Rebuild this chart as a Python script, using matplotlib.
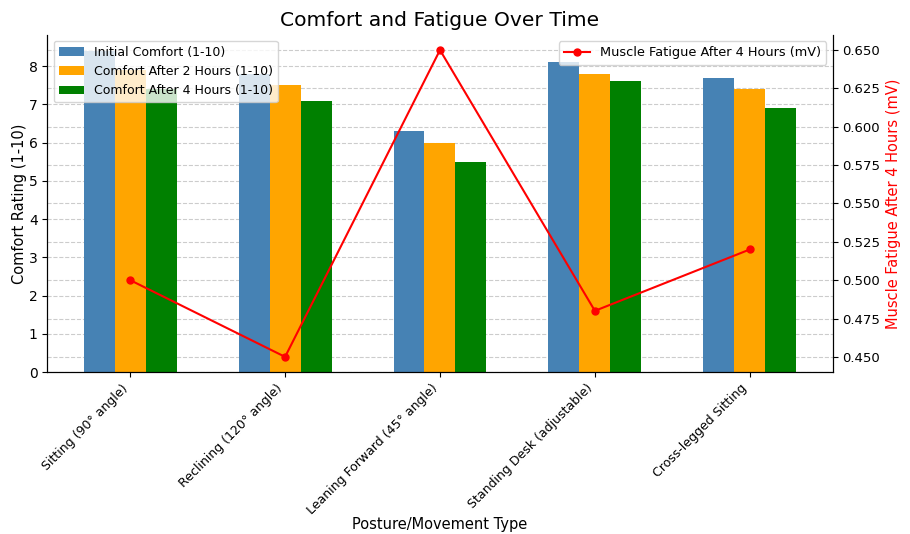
import matplotlib.pyplot as plt
import matplotlib.transforms as mtransforms
import numpy as np

postures = ['Sitting (90° angle)', 'Reclining (120° angle)',
            'Leaning Forward (45° angle)', 'Standing Desk (adjustable)',
            'Cross-legged Sitting']
initial_comfort = [8.4, 7.8, 6.3, 8.1, 7.7]
comfort_2h = [7.9, 7.5, 6.0, 7.8, 7.4]
comfort_4h = [7.4, 7.1, 5.5, 7.6, 6.9]
fatigue_4h = [0.50, 0.45, 0.65, 0.48, 0.52]

fig, ax = plt.subplots(figsize=(9.1, 5.34), dpi=100)
fig.subplots_adjust(left=0.052, right=0.915, top=0.935, bottom=0.303)

x = np.arange(len(postures))
w = 0.2

# Three comfort series side by side in each group
ax.bar(x - w, initial_comfort, w, color='steelblue', label='Initial Comfort (1-10)')
ax.bar(x, comfort_2h, w, color='orange', label='Comfort After 2 Hours (1-10)')
ax.bar(x + w, comfort_4h, w, color='green', label='Comfort After 4 Hours (1-10)')

ax.set_xlim(-0.535, len(postures) - 1 + 0.535)
ax.set_xticks(x)
ax.set_xticklabels(postures, rotation=45, ha='right', fontsize=9)
ax.tick_params(axis='y', labelsize=10)
ax.set_xlabel('Posture/Movement Type', fontsize=10.5, labelpad=0)
ax.set_ylabel('Comfort Rating (1-10)', fontsize=10.5, labelpad=1)
ax.set_title('Comfort and Fatigue Over Time', fontsize=14.6)
ax.grid(True, axis='y', linestyle='--', color='#cccccc')
ax.set_axisbelow(True)
ax.legend(loc='upper left', fontsize=9)

# Fatigue line on its own scale
ax2 = ax.twinx()
ax2.plot(x, fatigue_4h, color='red', marker='o', markersize=5,
         label='Muscle Fatigue After 4 Hours (mV)')
ax2.set_ylim(0.44, 0.66)
ax2.set_ylabel('Muscle Fatigue After 4 Hours (mV)', color='red', fontsize=10.5)
ax2.tick_params(axis='y', labelsize=9.5)
ax2.grid(True, axis='x', linestyle='--', color='#cccccc')
ax2.legend(loc='upper right', fontsize=9.3)

# right-axis gridlines go behind the bars
trans = mtransforms.blended_transform_factory(ax.transAxes, ax2.transData)
for t in ax2.get_yticks():
    ax.plot([0, 1], [t, t], transform=trans, linestyle='--', color='#cccccc',
            linewidth=0.8, zorder=0.5)

for a in (ax, ax2):
    a.spines['top'].set_visible(False)

plt.savefig('out.png')
